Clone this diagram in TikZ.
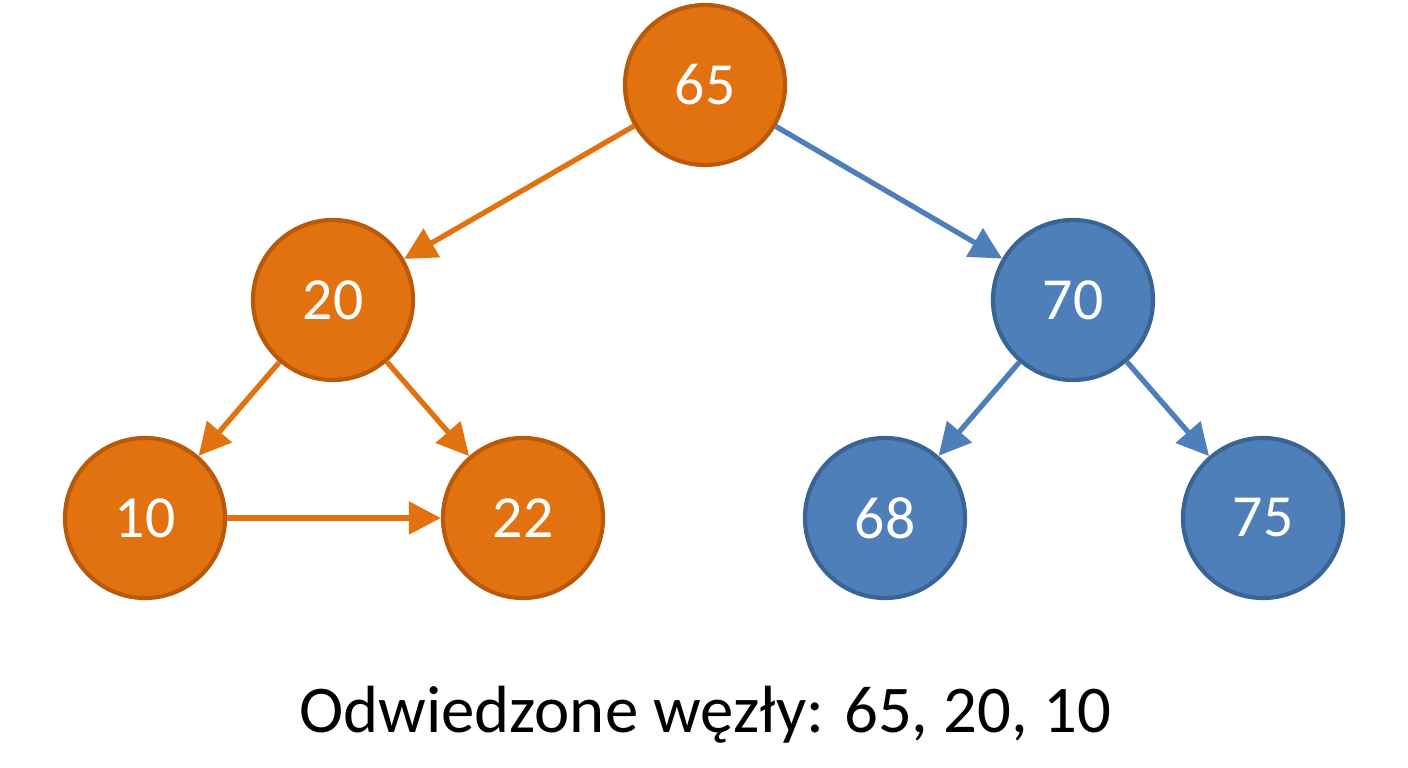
\documentclass[tikz,border=0pt]{standalone}
\usepackage{fontspec}
\setmainfont{Carlito}
\usetikzlibrary{arrows.meta,positioning}
\definecolor{orfill}{HTML}{E2720F}
\definecolor{ordraw}{HTML}{B95A0B}
\definecolor{blfill}{HTML}{4F7FB8}
\definecolor{bldraw}{HTML}{3A6494}
\tikzset{
    visited/.style = {draw=ordraw, fill=orfill, circle, line width=1.2pt,
        minimum size=1.6cm, text=white, font=\fontsize{17}{17}\selectfont},
    other/.style = {draw=bldraw, fill=blfill, circle, line width=1.2pt,
        minimum size=1.6cm, text=white, font=\fontsize{17}{17}\selectfont},
    arrow/.style = {line width=1.5pt, -{Triangle[length=0.32cm,width=0.32cm]}}
}
\begin{document}
\begin{tikzpicture}
        \useasboundingbox (0,0) rectangle (14.08,7.68);
        \node [visited] (n65) at (7.05,6.83) {65};
        \node [visited] (n20) at (3.33,4.68) {20};
        \node [other] (n70) at (10.73,4.68) {70};
        \node [visited] (n10) at (1.45,2.50) {10};
        \node [visited] (n22) at (5.23,2.50) {22};
        \node [other] (n68) at (8.85,2.50) {68};
        \node [other] (n75) at (12.63,2.50) {75};
        \draw [arrow, orfill] (n65) -- (n20);
        \draw [arrow, blfill] (n65) -- (n70);
        \draw [arrow, orfill] (n20) -- (n10);
        \draw [arrow, orfill] (n20) -- (n22);
        \draw [arrow, orfill] (n10) -- (n22);
        \draw [arrow, blfill] (n70) -- (n68);
        \draw [arrow, blfill] (n70) -- (n75);
        \node [font=\fontsize{19}{19}\selectfont] (caption) at (7.05,0.53) {Odwiedzone węzły: 65, 20, 10};
\end{tikzpicture}
\end{document}
